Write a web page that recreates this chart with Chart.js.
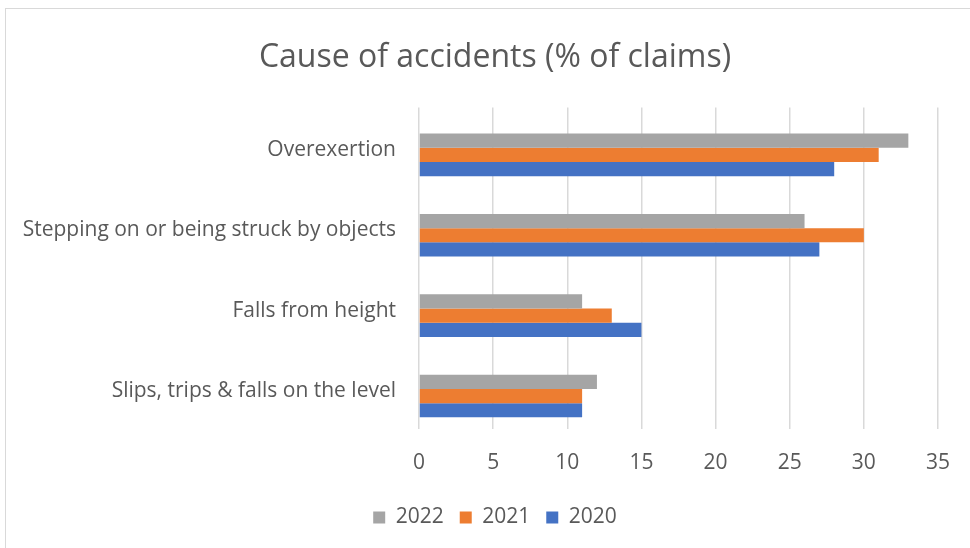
<!DOCTYPE html>
<html>
<head>
<meta charset="utf-8">
<script src="https://cdn.jsdelivr.net/npm/chart.js@4/dist/chart.umd.min.js"></script>
<style>
  html, body { margin: 0; padding: 0; background: #fff; overflow: hidden; }
  #wrap { position: relative; width: 970px; height: 548px; overflow: hidden; }
  #frame { position: absolute; left: 5px; top: 8px; width: 1000px; height: 600px;
           border-left: 1px solid #d9d9d9; border-top: 1px solid #d9d9d9; pointer-events: none; }
  canvas { position: absolute; left: 0; top: 0; }
</style>
</head>
<body>
<div id="wrap">
  <canvas id="chart" width="990" height="548"></canvas>
  <div id="frame"></div>
</div>
<script>
const categories = ['Overexertion', 'Stepping on or being struck by objects', 'Falls from height', 'Slips, trips & falls on the level'];
const years = ['2022', '2021', '2020'];
const values2022 = [33, 26, 11, 12];
const values2021 = [31, 30, 13, 11];
const values2020 = [28, 27, 15, 11];
const xTicks = [0, 5, 10, 15, 20, 25, 30, 35];
const colors = ['#A5A5A5', '#ED7D31', '#4472C4'];

const textColor = '#595959';
const fontFamily = '"Open Sans", sans-serif';

const toPoints = vals => vals.map((v, i) => ({ x: v, y: i }));
const series = [values2022, values2021, values2020];

const ctx = document.getElementById('chart').getContext('2d');
new Chart(ctx, {
    type: 'bar',
    data: {
        datasets: series.map((vals, i) => ({
            label: years[i],
            data: toPoints(vals),
            backgroundColor: colors[i],
            borderWidth: 0,
            barPercentage: 1,
            categoryPercentage: 0.53
        }))
    },
    options: {
        indexAxis: 'y',
        responsive: false,
        animation: false,
        layout: { padding: { left: 0, right: 0, top: 0, bottom: 10 } },
        plugins: {
            title: {
                display: true,
                text: 'Cause of accidents (% of claims)',
                color: textColor,
                font: { family: fontFamily, size: 32, weight: 'normal' },
                padding: { top: 39, bottom: 30 }
            },
            legend: {
                position: 'bottom',
                labels: {
                    color: textColor,
                    font: { family: fontFamily, size: 21 },
                    boxWidth: 12,
                    boxHeight: 12,
                    padding: 16
                }
            },
            tooltip: { enabled: false }
        },
        scales: {
            x: {
                type: 'linear',
                min: 0,
                max: 35,
                afterBuildTicks: scale => { scale.ticks = xTicks.map(v => ({ value: v })); },
                afterFit: scale => { scale.height = 62; },
                grid: { color: '#d9d9d9', lineWidth: 1.5, drawTicks: false },
                border: { display: false },
                ticks: {
                    color: textColor,
                    font: { family: fontFamily, size: 21 },
                    padding: 21
                }
            },
            y: {
                type: 'linear',
                reverse: true,
                offset: false,
                min: -0.59,
                max: 3.41,
                afterBuildTicks: scale => { scale.ticks = categories.map((_, i) => ({ value: i })); },
                afterFit: scale => { scale.width = 419; },
                grid: { display: false, drawTicks: false },
                border: { display: false },
                ticks: {
                    color: textColor,
                    font: { family: fontFamily, size: 21 },
                    padding: 23,
                    labelOffset: -5,
                    callback: value => categories[value]
                }
            },
            // empty right-hand margin so the title and legend centre on the whole frame
            yRight: {
                type: 'linear',
                position: 'right',
                afterFit: scale => { scale.width = 52; },
                grid: { display: false, drawTicks: false },
                border: { display: false },
                ticks: { display: false }
            }
        }
    }
});
</script>
</body>
</html>
